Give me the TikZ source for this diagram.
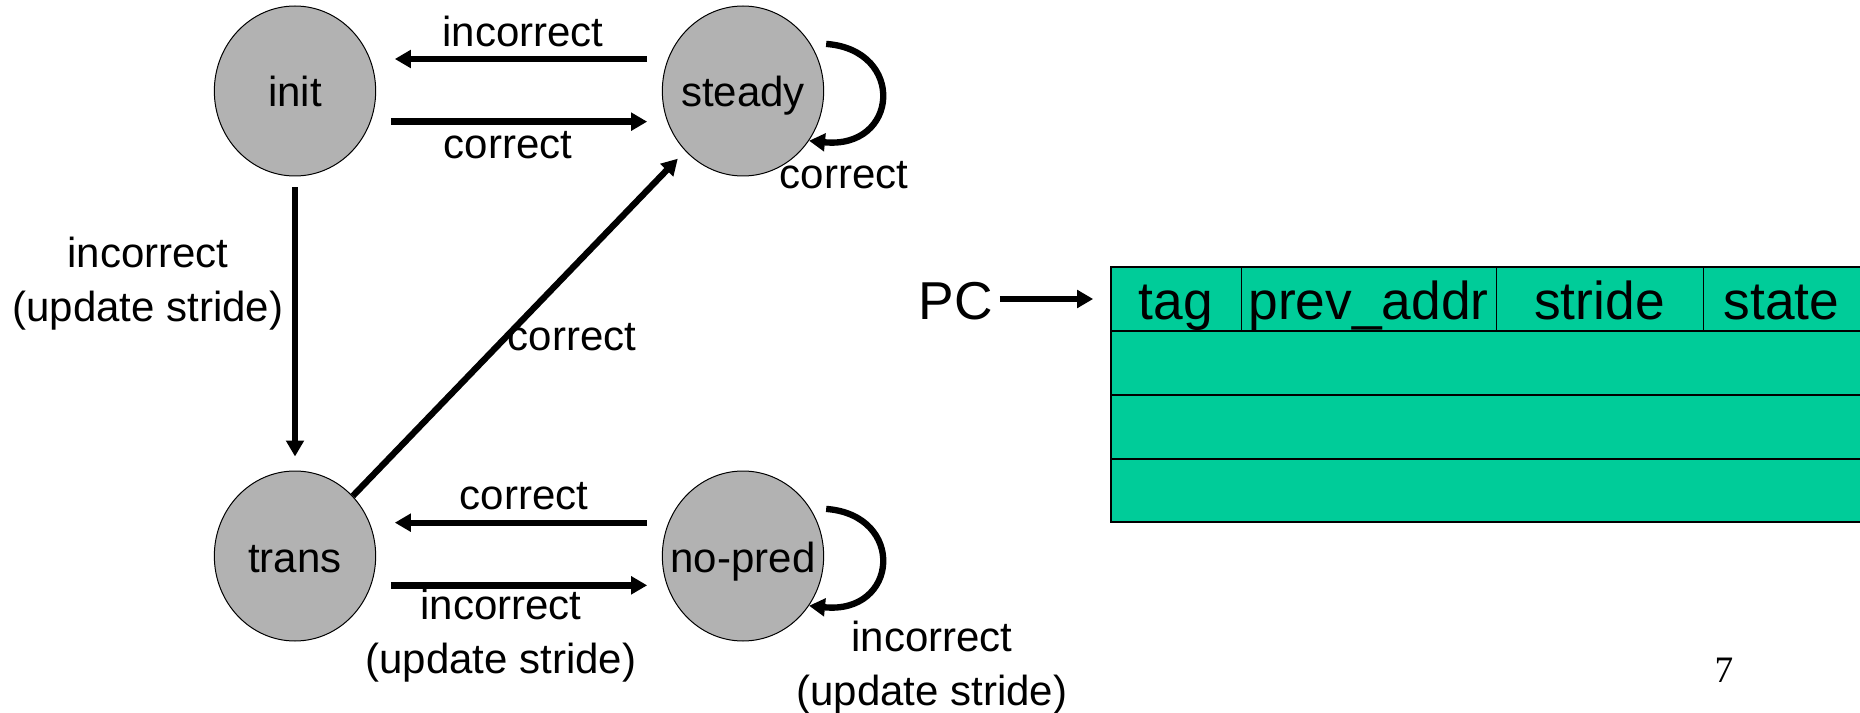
\documentclass[tikz,border=0pt]{standalone}
\usepackage{fontspec}
\setmainfont{Liberation Sans}
\newfontfamily\pagenumfont{Liberation Serif}
\usetikzlibrary{arrows.meta, shapes.geometric}
\definecolor{stategray}{RGB}{178,178,178}
\definecolor{tablegreen}{RGB}{0,204,153}

\begin{document}
\begin{tikzpicture}[x=0.75pt, y=-0.75pt, font=\fontsize{31.5}{40.5}\selectfont,
  >={Triangle[length=12pt,width=13pt]},
  st/.style={ellipse, draw, fill=stategray, line width=0.75pt, inner ysep=0pt, inner xsep=-12pt,
             minimum width=121pt, minimum height=127.5pt, text height=24pt, text depth=0pt},
  arr/.style={->, line width=4.75pt},
  lbl/.style={inner sep=0pt, align=center},
  cell/.style={draw, line width=0.75pt, fill=tablegreen, inner sep=0pt, minimum height=48pt,
               text height=30pt, text depth=0pt, font=\fontsize{40}{48}\selectfont},
  pclbl/.style={inner sep=0pt, text height=30pt, text depth=0pt, font=\fontsize{40}{48}\selectfont}]
  \useasboundingbox (0,0) rectangle (1860,713);
  \node[st] (init) at (295,91) {init};
  \node[st] (steady) at (743,91) {steady};
  \node[st] (trans) at (295,556) {trans};
  \node[st] (nopred) at (743,556) {no-pred};
  \draw[arr, shorten <=11pt, shorten >=14pt] ([yshift=24pt]steady.west) -- ([yshift=24pt]init.east);
  \draw[arr, shorten <=11pt, shorten >=11pt] ([yshift=-23pt]init.east) -- ([yshift=-23pt]steady.west);
  \draw[arr, shorten <=8pt, shorten >=10.5pt] (init) -- (trans);
  \draw[arr, shorten >=8pt] (trans) -- (steady);
  \draw[arr, shorten <=11pt, shorten >=14pt] ([yshift=25pt]nopred.west) -- ([yshift=25pt]trans.east);
  \draw[arr, shorten <=11pt, shorten >=11pt] ([yshift=-22pt]trans.east) -- ([yshift=-22pt]nopred.west);
  \draw[arr] ([shift={(9pt,4.5pt)}]steady.30) .. controls +(60pt,-4.5pt) and +(67.5pt,-6.75pt) .. (steady.-37);
  \draw[arr] ([shift={(9pt,4.5pt)}]nopred.30) .. controls +(60pt,-4.5pt) and +(67.5pt,-6.75pt) .. (nopred.-37);
  \node[lbl, anchor=base] (topinc) at (523,47) {incorrect};
  \node[lbl, anchor=base] (topcor) at (508,159) {correct};
  \node[lbl, anchor=base] (steadyloop) at (844,189) {correct};
  \node[lbl] (downinc) at (148,284) {incorrect\\(update stride)};
  \node[lbl, anchor=base] (diagcor) at (572,350) {correct};
  \node[lbl, anchor=base] (botcor) at (524,509) {correct};
  \node[lbl] (botinc) at (501,636) {incorrect\\(update stride)};
  \node[lbl] (nopredloop) at (932,668) {incorrect\\(update stride)};
  \fill[tablegreen] (1111,267) rectangle (1880,522);
  \node[cell, minimum width=97.5pt] (tag) at (1176,299) {tag};
  \node[cell, minimum width=191.25pt] (prevaddr) at (1368.5,299) {prev\_addr};
  \node[cell, minimum width=155.25pt] (stride) at (1599.5,299) {stride};
  \node[cell, minimum width=117.75pt] (statecol) at (1781.5,299) {state};
  \draw[line width=1.5pt] (1880,267) -- (1111,267) -- (1111,522) -- (1880,522);
  \draw[line width=1.5pt] (1111,331) -- (1880,331) (1111,395) -- (1880,395) (1111,459) -- (1880,459);
  \node[pclbl] (pc) at (956,299) {PC};
  \draw[arr, shorten <=5pt, shorten >=13pt] (pc) -- (tag);
  \node[font=\pagenumfont\fontsize{28}{34}\selectfont, anchor=base] (pagenum) at (1724,682) {7};
\end{tikzpicture}
\end{document}
